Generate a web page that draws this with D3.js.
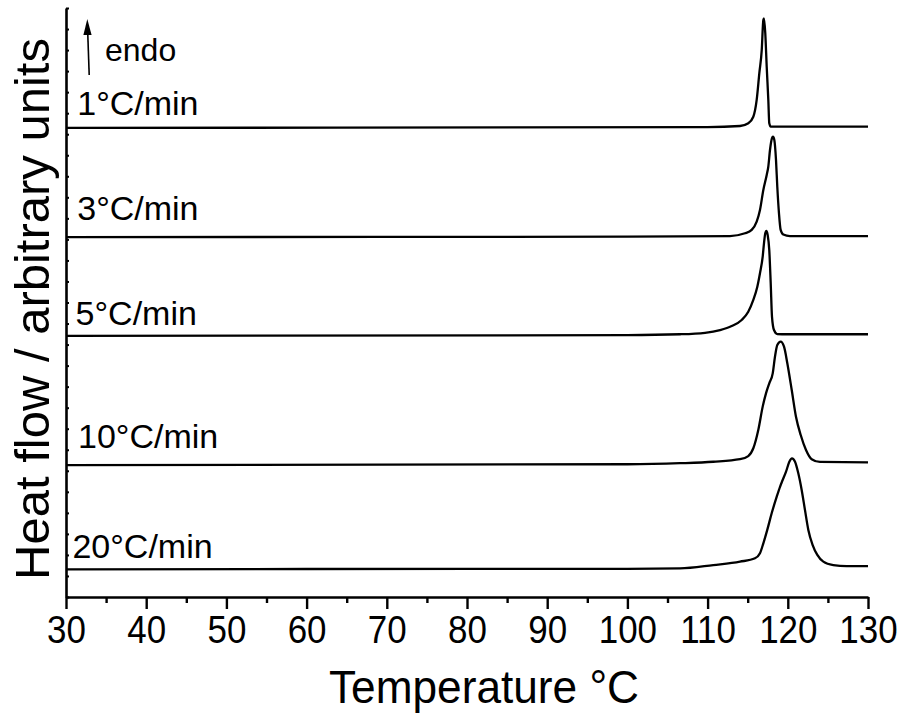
<!DOCTYPE html>
<html>
<head>
<meta charset="utf-8">
<script src="https://cdn.jsdelivr.net/npm/d3@7"></script>
<style>
  html, body { margin: 0; padding: 0; background: #fff; }
  svg { display: block; }
  text { font-family: "Liberation Sans", Arial, sans-serif; fill: #000; }
</style>
</head>
<body>
<svg id="chart" width="902" height="715"></svg>
<script>
// ---------------- data ----------------
const rateLabels = ["1°C/min", "3°C/min", "5°C/min", "10°C/min", "20°C/min"];
const xMajorTicks = [30, 40, 50, 60, 70, 80, 90, 100, 110, 120, 130];
const xMinorTicks = [35, 45, 55, 65, 75, 85, 95, 105, 115, 125];
const yTicks = d3.range(0, 29, 1);

const temp1 = [30, 110, 114.04, 115.08, 115.70, 116.12, 116.45, 116.75, 116.95, 117.03, 117.19, 117.37, 117.57, 117.69, 117.87, 130];
const flow1 = [22.30, 22.34, 22.39, 22.52, 22.83, 23.63, 24.90, 26.00, 27.43, 27.51, 26.81, 25.21, 23.63, 22.52, 22.36, 22.36];

const temp3 = [30, 100, 112.79, 114.66, 115.50, 116.12, 116.53, 116.95, 117.37, 117.57, 117.78, 118.03, 118.15, 118.32, 118.53, 118.69, 118.90, 119.11, 119.44, 120.27, 130];
const flow3 = [17.11, 17.13, 17.16, 17.29, 17.45, 17.84, 18.40, 19.35, 20.06, 20.46, 21.25, 21.81, 21.88, 21.73, 20.77, 19.50, 18.24, 17.45, 17.23, 17.16, 17.16];

const temp5 = [30, 100, 106.56, 109.68, 111.55, 113.0, 114.25, 115.07, 115.70, 116.20, 116.53, 116.87, 117.03, 117.19, 117.32, 117.49, 117.69, 117.87, 118.03, 118.28, 118.69, 119.86, 130];
const flow5 = [12.41, 12.45, 12.49, 12.56, 12.69, 12.88, 13.17, 13.56, 14.12, 14.75, 15.39, 16.18, 16.81, 17.29, 17.40, 17.21, 16.49, 14.91, 13.32, 12.69, 12.50, 12.49, 12.49];

const temp10 = [30, 100, 106.56, 110.71, 114.04, 115.07, 115.70, 116.32, 116.87, 117.28, 117.69, 118.12, 118.40, 118.69, 119.11, 119.53, 119.94, 120.49, 121.02, 121.61, 122.27, 122.98, 124.01, 130];
const flow10 = [6.27, 6.31, 6.36, 6.43, 6.55, 6.70, 7.07, 7.94, 9.05, 9.68, 10.16, 10.63, 11.42, 11.98, 12.14, 11.90, 11.11, 9.84, 8.57, 7.70, 6.99, 6.55, 6.42, 6.40];

const temp20 = [30, 60, 100, 106.56, 110.71, 114.04, 115.91, 116.53, 116.95, 117.44, 117.99, 118.62, 119.03, 119.36, 119.78, 120.19, 120.52, 120.90, 121.31, 121.73, 122.14, 122.56, 123.10, 123.68, 124.43, 125.67, 127.34, 130];
const flow20 = [1.31, 1.33, 1.34, 1.36, 1.52, 1.68, 1.84, 2.08, 2.55, 3.19, 3.98, 4.77, 5.24, 5.56, 5.96, 6.43, 6.59, 6.43, 5.88, 5.09, 4.14, 3.19, 2.47, 2.00, 1.68, 1.52, 1.47, 1.47];

// label anchor positions in data units (temperature, flow)
const labelTemp = [31.4, 31.4, 31.2, 31.5, 30.8];
const labelFlow = [22.91, 17.92, 12.93, 7.08, 1.85];

// ---------------- chart ----------------
const svg = d3.select("#chart");
const x = d3.scaleLinear().domain([30, 130]).range([66, 868]);
const y = d3.scaleLinear().domain([0, 28]).range([597, 8]);

const series = [
  {t: temp1, v: flow1}, {t: temp3, v: flow3}, {t: temp5, v: flow5},
  {t: temp10, v: flow10}, {t: temp20, v: flow20}
];

const line = d3.line()
  .x(d => x(d[0])).y(d => y(d[1]))
  .curve(d3.curveMonotoneX);

svg.append("g").selectAll("path")
  .data(series)
  .join("path")
  .attr("d", s => line(s.t.map((t, i) => [t, s.v[i]])))
  .attr("fill", "none")
  .attr("stroke", "#000")
  .attr("stroke-width", 2.3)
  .attr("stroke-linejoin", "round");

// curve labels
svg.append("g").selectAll("text")
  .data(rateLabels)
  .join("text")
  .attr("x", (d, i) => x(labelTemp[i]))
  .attr("y", (d, i) => y(labelFlow[i]))
  .attr("font-size", 34)
  .text(d => d);

// x axis
const xAxis = svg.append("g").attr("transform", "translate(0,597)");
xAxis.call(d3.axisBottom(x).tickValues(xMajorTicks).tickSize(12).tickSizeOuter(0).tickFormat(d3.format("d")));
xAxis.select(".domain").attr("stroke-width", 2.6);
xAxis.selectAll(".tick line").attr("stroke-width", 2.4);
xAxis.selectAll(".tick text")
  .attr("y", 46).attr("dy", 0)
  .attr("font-size", 38)
  .attr("font-family", "'Liberation Sans', Arial, sans-serif")
  .attr("transform", "scale(0.92,1)")
  .attr("fill", "#000");

const xMinor = svg.append("g").attr("transform", "translate(0,597)");
xMinor.call(d3.axisBottom(x).tickValues(xMinorTicks).tickSize(6).tickFormat(""));
xMinor.select(".domain").remove();
xMinor.selectAll(".tick line").attr("stroke-width", 2.4);

// y axis (unlabelled, inward minor ticks)
const yAxis = svg.append("g").attr("transform", "translate(66,0)");
yAxis.call(d3.axisRight(y).tickValues(yTicks).tickSize(3).tickSizeOuter(0).tickFormat(""));
yAxis.select(".domain").attr("stroke-width", 2.6);
yAxis.selectAll(".tick line").attr("stroke-width", 2);

// axis titles
svg.append("text")
  .attr("x", 484).attr("y", 703)
  .attr("text-anchor", "middle")
  .attr("font-size", 46)
  .attr("textLength", 310)
  .attr("lengthAdjust", "spacingAndGlyphs")
  .text("Temperature °C");

svg.append("text")
  .attr("transform", "translate(49,309) rotate(-90)")
  .attr("text-anchor", "middle")
  .attr("font-size", 49)
  .text("Heat flow / arbitrary units");

// endo arrow
svg.append("line")
  .attr("x1", 89.2).attr("y1", 75)
  .attr("x2", 87.7).attr("y2", 32)
  .attr("stroke", "#000").attr("stroke-width", 1.6);
svg.append("path")
  .attr("d", "M87.3,19 L91.6,35 L83.4,35 Z")
  .attr("fill", "#000");

svg.append("text")
  .attr("x", 105).attr("y", 61)
  .attr("font-size", 32)
  .text("endo");
</script>
</body>
</html>
